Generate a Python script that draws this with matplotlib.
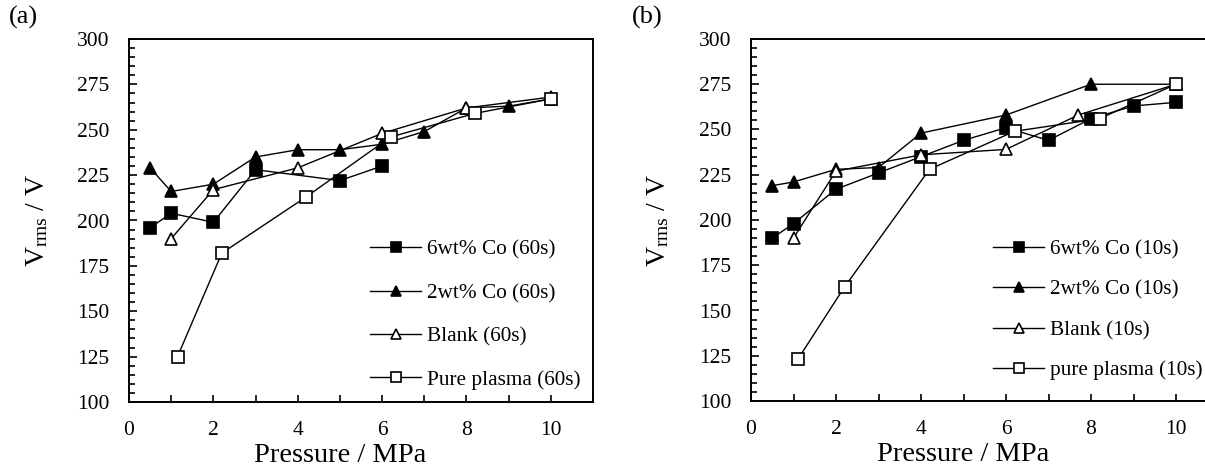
import numpy as np
import matplotlib
matplotlib.use('Agg')
import matplotlib.pyplot as plt
from matplotlib.ticker import MultipleLocator

plt.rcParams['font.family'] = ['Liberation Serif', 'DejaVu Serif']
plt.rcParams['mathtext.fontset'] = 'custom'
plt.rcParams['mathtext.rm'] = 'Liberation Serif'
plt.rcParams['mathtext.it'] = 'Liberation Serif:italic'

# Panel (a), 60 s
a_co6_x = [0.5, 1, 2, 3, 5, 6]
a_co6_y = [196, 204, 199, 228, 222, 230]
a_co2_x = [0.5, 1, 2, 3, 4, 5, 6, 7, 8, 9, 10]
a_co2_y = [229, 216, 220, 235, 239, 239, 242, 249, 262, 263, 267]
a_blank_x = [1, 2, 4, 6, 8, 10]
a_blank_y = [190, 217, 229, 248, 262, 268]
a_pure_x = [1.15, 2.2, 4.2, 6.2, 8.2, 10]
a_pure_y = [125, 182, 213, 246, 259, 267]

# Panel (b), 10 s
b_co6_x = [0.5, 1, 2, 3, 4, 5, 6, 7, 8, 9, 10]
b_co6_y = [190, 198, 217, 226, 235, 244, 251, 244, 256, 263, 265]
b_co2_x = [0.5, 1, 2, 3, 4, 6, 8, 10]
b_co2_y = [219, 221, 228, 229, 248, 258, 275, 275]
b_blank_x = [1, 2, 4, 6, 7.7, 10]
b_blank_y = [190, 227, 236, 239, 258, 275]
b_pure_x = [1.1, 2.2, 4.2, 6.2, 8.2, 10]
b_pure_y = [123, 163, 228, 249, 256, 275]

a_labels = ['6wt% Co (60s)', '2wt% Co (60s)', 'Blank (60s)', 'Pure plasma (60s)']
b_labels = ['6wt% Co (10s)', '2wt% Co (10s)', 'Blank (10s)', 'pure plasma (10s)']

styles = [dict(marker='s', mfc='black', ms=8),
          dict(marker='^', mfc='black', ms=8),
          dict(marker='^', mfc='white', ms=8),
          dict(marker='s', mfc='white', ms=8)]

W, H = 1205, 473
fig = plt.figure(figsize=(W / 100, H / 100), dpi=100)


def setup(ax, label_x):
    ax.set_xlim(0, 11)
    ax.set_ylim(100, 300)
    ax.xaxis.set_major_locator(MultipleLocator(2))
    ax.xaxis.set_minor_locator(MultipleLocator(1))
    ax.yaxis.set_major_locator(MultipleLocator(25))
    ax.yaxis.set_minor_locator(MultipleLocator(5))
    ax.tick_params(which='both', direction='in', labelsize=15.5, width=1.2)
    ax.tick_params(axis='y', which='major', length=6, pad=14)
    ax.tick_params(axis='y', which='minor', length=4)
    ax.tick_params(axis='x', which='both', length=5, pad=14)
    for s in ax.spines.values():
        s.set_linewidth(1.4)
    ax.set_xlabel('Pressure / MPa', fontsize=20.5)
    ax.xaxis.set_label_coords(5 / 11, -0.113)
    ax.set_ylabel(r'V$_{\mathrm{rms}}$ / V', fontsize=20)
    ax.yaxis.set_label_coords(label_x, 0.5)


def draw(ax, series, labels):
    for (x, y), st, lab in zip(series, styles, labels):
        ax.plot(x, y, color='black', lw=1.0, mec='black', mew=1.2, label=lab, **st)


ax1 = fig.add_axes([129 / W, (H - 402) / H, 464 / W, 363 / H])
setup(ax1, -0.17)
draw(ax1, [(a_co6_x, a_co6_y), (a_co2_x, a_co2_y), (a_blank_x, a_blank_y), (a_pure_x, a_pure_y)], a_labels)
ax1.legend(loc='upper left', bbox_to_anchor=(241 / 464, (402 - 240) / 363), frameon=False, fontsize=15.3,
           handlelength=2.4, handletextpad=0.3, labelspacing=1.1, markerscale=0.9,
           borderpad=0, borderaxespad=0)

ax2 = fig.add_axes([751 / W, (H - 401) / H, 467.5 / W, 362 / H])
setup(ax2, -0.17)
draw(ax2, [(b_co6_x, b_co6_y), (b_co2_x, b_co2_y), (b_blank_x, b_blank_y), (b_pure_x, b_pure_y)], b_labels)
ax2.legend(loc='upper left', bbox_to_anchor=(242 / 467.5, (401 - 240) / 362), frameon=False, fontsize=15.3,
           handlelength=2.4, handletextpad=0.3, labelspacing=0.95, markerscale=0.9,
           borderpad=0, borderaxespad=0)

fig.text(9 / W, 1 - 17 / H, '(a)', fontsize=19, va='center', ha='left')
fig.text(632 / W, 1 - 17 / H, '(b)', fontsize=19, va='center', ha='left')

fig.savefig('out.png', dpi=100)
